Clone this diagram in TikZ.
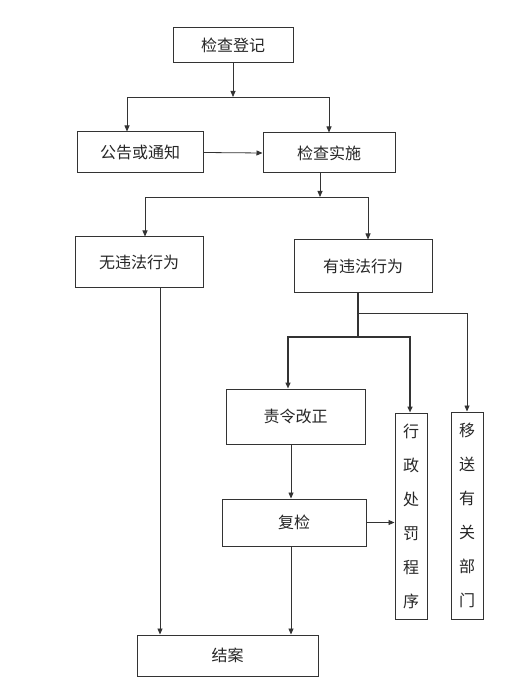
\documentclass[tikz,border=0pt]{standalone}
\usepackage{fontspec}
\newfontfamily\cjk{Noto Sans CJK SC}
\usetikzlibrary{arrows.meta,calc}
\begin{document}
\begin{tikzpicture}[x=1pt,y=-1pt,
  box/.style={draw=black!80,line width=1pt,inner sep=0pt,font=\cjk\fontsize{16pt}{19pt}\selectfont,text=black!85},
  vbox/.style={box,align=center,text width=20pt,font=\cjk\fontsize{16pt}{34pt}\selectfont},
  ln/.style={draw=black!80,line width=0.8pt},
  arr/.style={ln,-{Triangle[length=6pt,width=5pt]}},
  thick ln/.style={draw=black!80,line width=1.4pt}]
\useasboundingbox[fill=white] (0,0) rectangle (514,700);
\node[box,minimum width=120pt,minimum height=35pt] (dj) at (233,45.5) {检查登记};
\node[box,minimum width=126pt,minimum height=41pt] (gg) at (140,152.5) {公告或通知};
\node[box,minimum width=132pt,minimum height=40pt] (ss) at (329,153) {检查实施};
\node[box,minimum width=128pt,minimum height=50pt] (wu) at (139,262) {无违法行为};
\node[box,minimum width=138pt,minimum height=52pt] (you) at (363,266) {有违法行为};
\node[box,minimum width=139pt,minimum height=55pt] (zl) at (295.5,416.5) {责令改正};
\node[box,minimum width=144pt,minimum height=47pt] (fj) at (294,522.5) {复检};
\node[vbox,minimum width=32pt,minimum height=206pt] (xz) at (411,516) {行\\政\\处\\罚\\程\\序};
\node[vbox,minimum width=32pt,minimum height=207pt] (ys) at (467,515.5) {移\\送\\有\\关\\部\\门};
\node[box,minimum width=181pt,minimum height=41pt] (ja) at (227.5,655.5) {结案};
\coordinate (j1) at (233,97);
\coordinate (j2) at (320,197);
\coordinate (j3) at (358,337);
\coordinate (j4) at (358,313);
% top
\draw[arr] (dj.south) -- (j1);
\draw[arr] (j1) -| ([xshift=-13pt]gg.north);
\draw[arr] (j1) -| (ss.north);
\draw[arr] (gg.east) -- (ss.west);
% inspection
\draw[arr] (ss.south -| j2) -- (j2);
\draw[arr] (j2) -| ([xshift=6pt]wu.north);
\draw[arr] (j2) -| ([xshift=5pt]you.north);
\draw[arr] ([xshift=21pt]wu.south) -- ([xshift=21pt]wu.south |- ja.north);
% violation
\draw[thick ln] (you.south -| j3) -- (j3);
\draw[arr] (j4) -| (ys.north);
\draw[arr,line width=1.4pt] (j3) -| ([xshift=-7.5pt]zl.north);
\draw[arr,line width=1.4pt] (j3) -| ([xshift=-1pt]xz.north);
\draw[arr] ([xshift=-4.5pt]zl.south) -- ([xshift=-4.5pt]zl.south |- fj.north);
\draw[arr] (fj.east) -- (fj.east -| xz.west);
\draw[arr] ([xshift=-3pt]fj.south) -- ([xshift=-3pt]fj.south |- ja.north);
\end{tikzpicture}
\end{document}
